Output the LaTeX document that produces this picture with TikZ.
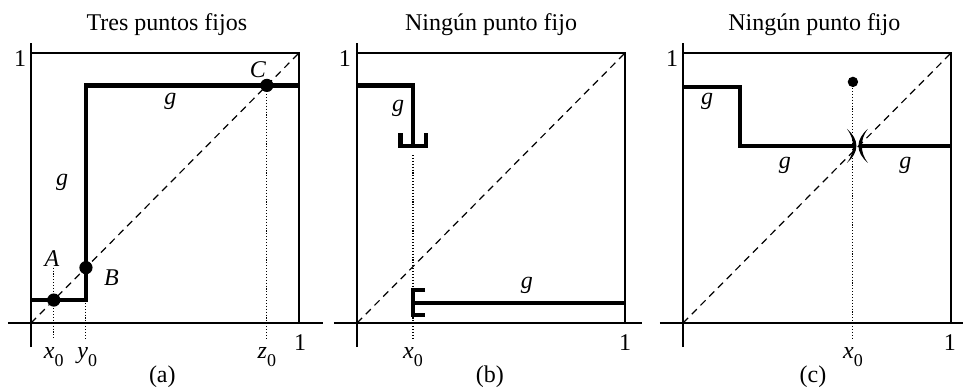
\documentclass[tikz,border=0pt]{standalone}
\usepackage{fontspec}
\setmainfont{Liberation Serif}
\newcommand{\ssub}[2]{\textit{#1}\raisebox{-0.3em}{\fontsize{9}{10}\selectfont #2}}
\begin{document}
\begin{tikzpicture}[x=0.5pt,y=-0.5pt,
  axisline/.style={line width=0.7pt},
  gline/.style={line width=2.2pt, line cap=butt, line join=miter},
  diag/.style={line width=0.6pt, dash pattern=on 3.6pt off 2.6pt},
  dotl/.style={line width=0.55pt, dash pattern=on 0.55pt off 0.9pt},
  lab/.style={font=\fontsize{12}{14}\selectfont, inner sep=0pt},
  panel/.style={x=134pt, y=135pt}]
\useasboundingbox (0,0) rectangle (963,387);

% ---------------- Panel (a)
\begin{scope}[shift={(31,323)}, panel]
  \draw[axisline] (-0.086,0) -- (1.09,0);
  \draw[axisline] (0,-0.089) -- (0,1.037);
  \draw[axisline] (0,1) -- (1,1) -- (1,0);
  \draw[diag] (0,0) -- (1,1);
  \draw[gline] (0,0.085) -- (0.205,0.085) -- (0.205,0.88) -- (1,0.88);
  \draw[dotl] (0.085,0.205) -- (0.085,-0.063);
  \draw[dotl] (0.205,0.085) -- (0.205,-0.063);
  \draw[dotl] (0.88,0.88) -- (0.88,-0.063);
  \fill (0.085,0.085) circle[radius=3.3pt];
  \fill (0.205,0.205) circle[radius=3.3pt];
  \fill (0.88,0.88) circle[radius=3.3pt];
  \node[lab] (aA) at (0.078,0.24) {\textit{A}};
  \node[lab] (aB) at (0.30,0.167) {\textit{B}};
  \node[lab] (aC) at (0.847,0.94) {\textit{C}};
  \node[lab] (ag1) at (0.52,0.82) {\textit{g}};
  \node[lab] (ag2) at (0.116,0.52) {\textit{g}};
  \node[lab] (ax0) at (0.085,-0.126) {\ssub{x}{0}};
  \node[lab] (ay0) at (0.21,-0.126) {\ssub{y}{0}};
  \node[lab] (az0) at (0.88,-0.126) {\ssub{z}{0}};
  \node[lab] (a1t) at (-0.041,0.98) {1};
  \node[lab] (a1r) at (1.004,-0.074) {1};
  \node[lab] (acap) at (0.49,-0.2) {(a)};
  \node[lab] (atit) at (0.507,1.104) {Tres puntos fijos};
\end{scope}

% ---------------- Panel (b)
\begin{scope}[shift={(357,323)}, panel]
  \draw[axisline] (-0.086,0) -- (1.065,0);
  \draw[axisline] (0,-0.089) -- (0,1.037);
  \draw[axisline] (0,1) -- (1,1) -- (1,0);
  \draw[diag] (0,0) -- (1,1);
  \draw[gline] (0,0.88) -- (0.209,0.88) -- (0.209,0.655);
  \draw[gline] (0.162,0.703) -- (0.162,0.655) -- (0.258,0.655) -- (0.258,0.703);
  \draw[gline] (0.254,0.122) -- (0.209,0.122) -- (0.209,0.030) -- (0.254,0.030);
  \draw[gline] (0.209,0.074) -- (1,0.074);
  \draw[dotl] (0.209,0.622) -- (0.209,-0.063);
  \node[lab] (bg1) at (0.153,0.796) {\textit{g}};
  \node[lab] (bg2) at (0.634,0.141) {\textit{g}};
  \node[lab] (bx0) at (0.209,-0.126) {\ssub{x}{0}};
  \node[lab] (b1t) at (-0.045,0.98) {1};
  \node[lab] (b1r) at (1.0,-0.074) {1};
  \node[lab] (bcap) at (0.496,-0.2) {(b)};
  \node[lab] (btit) at (0.5,1.104) {Ningún punto fijo};
\end{scope}

% ---------------- Panel (c)
\begin{scope}[shift={(683,323)}, panel]
  \draw[axisline] (-0.086,0) -- (1.05,0);
  \draw[axisline] (0,-0.089) -- (0,1.037);
  \draw[axisline] (0,1) -- (1,1) -- (1,0);
  \draw[diag] (0,0) -- (1,1);
  \draw[gline] (0,0.874) -- (0.213,0.874) -- (0.213,0.656) -- (0.634,0.656);
  \draw[gline] (0.665,0.656) -- (1,0.656);
  \draw[dotl] (0.634,0.87) -- (0.634,-0.063);
  \fill (0.634,0.893) circle[radius=2.6pt];
  \begin{scope}[shift={(0.634,0.656)}, x=0.5pt, y=0.5pt]
    % left mark ")"
    \fill (-6,17) .. controls (0,12) and (3.5,6) .. (3.5,0)
          .. controls (3.5,-6) and (0,-12) .. (-6,-17)
          .. controls (-1.5,-11) and (0,-6) .. (0,0)
          .. controls (0,6) and (-1.5,11) .. (-6,17) -- cycle;
    % right mark "("
    \fill (15,17) .. controls (9,12) and (5.5,6) .. (5.5,0)
          .. controls (5.5,-6) and (9,-12) .. (15,-17)
          .. controls (10.5,-11) and (9,-6) .. (9,0)
          .. controls (9,6) and (10.5,11) .. (15,17) -- cycle;
  \end{scope}
  \node[lab] (cg1) at (0.09,0.82) {\textit{g}};
  \node[lab] (cg2) at (0.38,0.585) {\textit{g}};
  \node[lab] (cg3) at (0.83,0.585) {\textit{g}};
  \node[lab] (cx0) at (0.634,-0.126) {\ssub{x}{0}};
  \node[lab] (c1t) at (-0.041,0.98) {1};
  \node[lab] (c1r) at (0.996,-0.074) {1};
  \node[lab] (ccap) at (0.485,-0.2) {(c)};
  \node[lab] (ctit) at (0.49,1.104) {Ningún punto fijo};
\end{scope}
\end{tikzpicture}
\end{document}
